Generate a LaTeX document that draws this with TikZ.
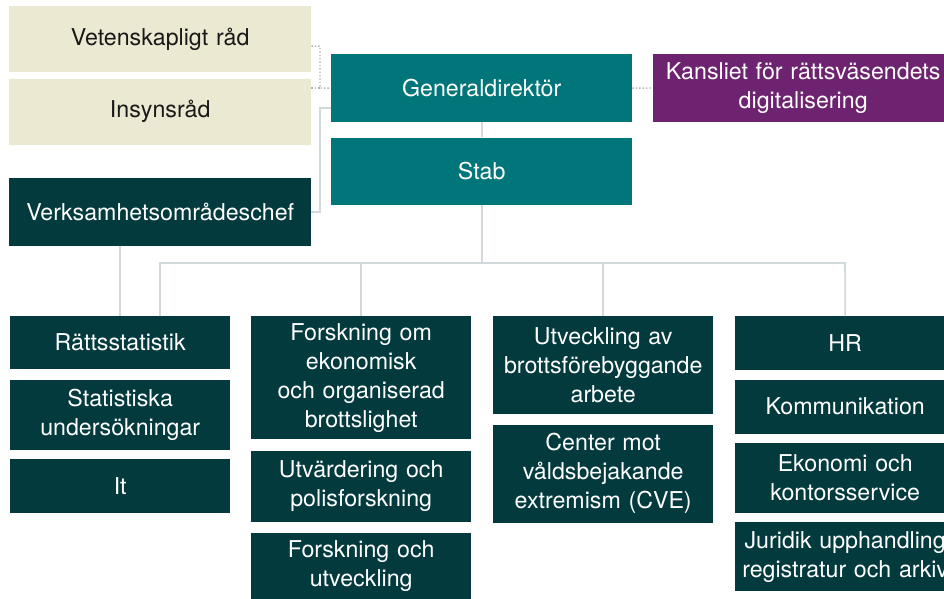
\documentclass[tikz,border=0pt]{standalone}
\usepackage{fontspec}
\setmainfont{TeX Gyre Heros}
\usetikzlibrary{positioning}

\definecolor{brabeige}{HTML}{ECE9D2}
\definecolor{brateal}{HTML}{00757A}
\definecolor{brapurple}{HTML}{6D2370}
\definecolor{bradark}{HTML}{033A3E}
\definecolor{bragray}{HTML}{D2D9DA}

\tikzset{
  box/.style={rectangle, inner sep=0pt, align=center,
              font=\fontsize{23.2}{29}\selectfont},
  council/.style={box, fill=brabeige, text=black!90, minimum width=302pt,
                  minimum height=66pt, text width=290pt},
  ledning/.style={box, fill=brateal, text=white, minimum width=301pt,
                  minimum height=68pt, text width=290pt},
  kansli/.style={box, fill=brapurple, text=white, minimum width=300pt,
                 minimum height=68pt, text width=290pt},
  chef/.style={box, fill=bradark, text=white, minimum width=302pt,
               minimum height=68pt, text width=290pt},
  unit/.style={box, fill=bradark, text=white, minimum width=220pt,
               text width=216pt},
  conn/.style={draw=bragray, line width=1.6pt},
  dotconn/.style={draw=black!30, line width=1.4pt, dotted}
}

\begin{document}
\begin{tikzpicture}[x=1pt,y=-1pt]
\useasboundingbox (0,0) rectangle (944,599);

% ledning och råd
\node[council, anchor=north west] (vet)   at (9,6)    {Vetenskapligt råd};
\node[council]                    (insyn) [below=6pt of vet] {Insynsråd};
\node[ledning, anchor=north west] (gen)   at (331,54) {Generaldirektör};
\node[ledning, minimum height=67pt] (stab) [below=15pt of gen] {Stab};
\node[kansli, anchor=west]        (kans)  at (653,88)
      {Kansliet för rättsväsendets\\digitalisering};
\node[chef, anchor=north west]    (verks) at (9,178)  {Verksamhetsområdeschef};

% avdelningar
\node[unit, minimum height=53pt, anchor=north west] (rstat) at (10,316) {Rättsstatistik};
\node[unit, minimum height=70pt] (stund) [below=10pt of rstat] {Statistiska\\undersökningar};
\node[unit, minimum height=54pt] (it)    [below=9pt of stund]  {It};

\node[unit, minimum height=123pt, anchor=north west] (foek) at (251,316)
      {Forskning om\\ekonomisk\\och organiserad\\brottslighet};
\node[unit, minimum height=71pt] (utpol) [below=11pt of foek]  {Utvärdering och\\polisforskning};
\node[unit, minimum height=67pt] (fou)   [below=11pt of utpol] {Forskning och\\utveckling};

\node[unit, minimum height=98pt, anchor=north west] (utbrott) at (493,316)
      {Utveckling av\\brottsförebyggande\\arbete};
\node[unit, minimum height=98pt] (cve) [below=10pt of utbrott]
      {Center mot\\våldsbejakande\\extremism (CVE)};

\node[unit, minimum height=54pt, anchor=north west] (hr) at (735,316) {HR};
\node[unit, minimum height=54pt] (komm) [below=9pt of hr]   {Kommunikation};
\node[unit, minimum height=70pt] (ekon) [below=9pt of komm] {Ekonomi och\\kontorsservice};
\node[unit, minimum height=69pt] (jur)  [below=9pt of ekon] {Juridik upphandling\\registratur och arkiv};

% linjer
\coordinate (dj)   at (320,88);
\coordinate (vk)   at (320,108);
\coordinate (busl) at (160,263);
\coordinate (busr) at (845,263);

\draw[dotconn] ([yshift=-7pt]vet.east) -| (dj) -- (gen.west);
\draw[dotconn] (insyn.east |- dj) -- (dj);
\draw[dotconn] (gen.east) -- (kans.west);

\draw[conn] (verks.east) -| (vk) -- (gen.west |- vk);
\draw[conn] (gen.south) -- (stab.north);
\draw[conn] (stab.south) -- (stab.south |- busl);
\draw[conn] (rstat.north -| busl) -- (busl) -- (busr) -- (hr.north);
\foreach \n in {foek,utbrott}
  \draw[conn] (\n.north |- busl) -- (\n.north);
\draw[conn] (verks.south -| rstat.north) -- (rstat.north);
\end{tikzpicture}
\end{document}
